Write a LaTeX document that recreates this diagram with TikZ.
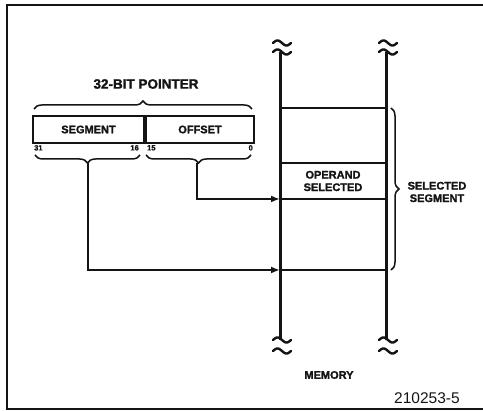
\documentclass[tikz,border=0pt]{standalone}
\usepackage{fontspec}
\setmainfont{Liberation Sans}[BoldFeatures={FakeBold=1.6}]
\usepackage{tikz}
\usetikzlibrary{
    arrows.meta,
    positioning,
    calc,
    decorations.pathreplacing
}
\definecolor{inkblack}{RGB}{20, 20, 20}

\begin{document}
\begin{tikzpicture}[x=1pt, y=-1pt,
    lbl/.style={font=\fontsize{11}{11.5}\selectfont\bfseries, text=inkblack, inner sep=0pt},
    bitlbl/.style={font=\fontsize{7.5}{8}\selectfont\bfseries, text=inkblack, inner sep=0pt},
    field/.style={draw=inkblack, line width=2pt, minimum height=27pt, inner sep=0pt},
    wire/.style={draw=inkblack, line width=2.2pt},
    memline/.style={draw=inkblack, line width=3pt},
    brc/.style={draw=inkblack, line width=1.5pt, decorate, decoration={brace, amplitude=8pt}},
    ptr/.style={wire, -{Latex[length=9pt, width=7pt]}}]
                    \useasboundingbox (0,0) rectangle (483,411);
                    % Frame (open to the right)
                    \draw[inkblack, line width=1.5pt] (483,5) -- (7,5) -- (7,409) -- (483,409);
                    
                    % 32-bit pointer
                    \node[font=\fontsize{13.5}{14}\selectfont\bfseries, text=inkblack] (title) at (146,84) {32-BIT POINTER};
                    \node[field, minimum width=111pt] (seg) at (88.5,129.5) {};
                    \node[field, minimum width=108pt, anchor=west] (off) at (seg.east) {};
                    \node[lbl] (seglbl) at (seg.center) {SEGMENT};
                    \node[lbl] (offlbl) at (off.center) {OFFSET};
                    \node[bitlbl, anchor=north west] (b31) at (34,145) {31};
                    \node[bitlbl, anchor=north east] (b16) at (139,145) {16};
                    \node[bitlbl, anchor=north west] (b15) at (147,145) {15};
                    \node[bitlbl, anchor=north east] (b0) at (253,145) {0};
                    
                    % Braces over and under the pointer
                    \draw[brc] (34,109) -- (252,109);
                    \draw[brc] (140,155) -- (35,155);
                    \draw[brc] (251,155) -- (146,155);
                    \coordinate (segtip) at (88,163);
                    \coordinate (offtip) at (197,163);
                    
                    % Memory
                    \coordinate (mltop) at (280,52);
                    \coordinate (mlbot) at (280,340);
                    \coordinate (mrtop) at (386,52);
                    \coordinate (mrbot) at (386,340);
                    \draw[memline] (mltop) -- (mlbot);
                    \draw[memline] (mrtop) -- (mrbot);
                    \foreach \cx/\cy in {282/43, 282/52, 282/340, 282/351, 388/43, 388/52, 388/340, 388/351}
                        \draw[inkblack, line width=2.4pt, line cap=round]
                            plot[domain=-9:9, samples=25, smooth] ({\cx+\x},{\cy+2.5*sin(\x*20)});
                    
                    % Segment rows
                    \foreach \ry/\rname in {108/segtop, 163/optop, 199/opbot, 270/segbase} {
                        \coordinate (\rname L) at (280,\ry);
                        \coordinate (\rname R) at (386,\ry);
                        \draw[wire] (\rname L) -- (\rname R);
                    }
                    \node[lbl, align=center] (opnd) at (333,181) {OPERAND\\[1pt]SELECTED};
                    \draw[brc] (391,108) -- (391,270);
                    \node[lbl, align=center] (selseg) at (437,192) {SELECTED\\[1pt]SEGMENT};
                    
                    % Pointer paths into memory
                    \draw[ptr] (offtip) |- (opbotL);
                    \draw[ptr] (segtip) |- (segbaseL);
                    
                    % Captions
                    \node[lbl] (memlbl) at (329,375) {MEMORY};
                    \node[font=\fontsize{15.5}{16}\selectfont, text=inkblack, inner sep=0pt] (fignum) at (427,398) {210253-5};
                \end{tikzpicture}
\end{document}
